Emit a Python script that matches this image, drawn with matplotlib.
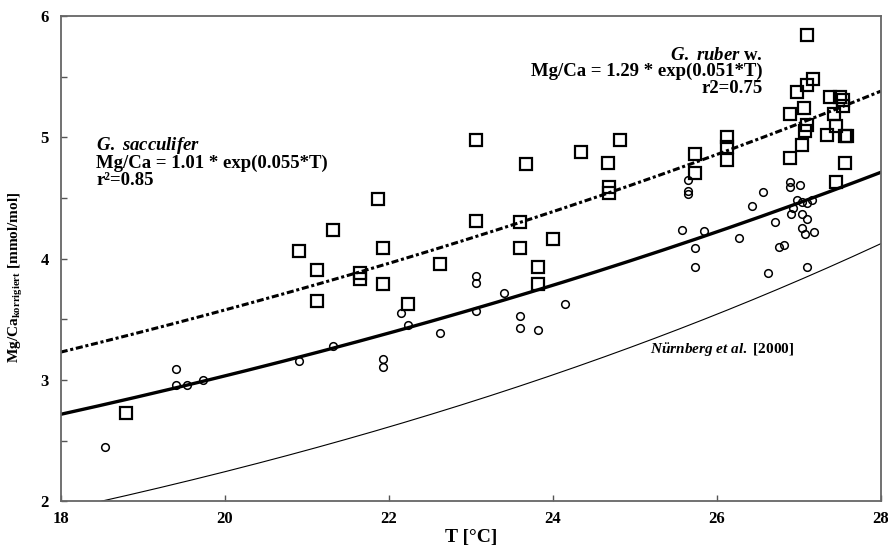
import numpy as np
import matplotlib
matplotlib.use("Agg")
import matplotlib.pyplot as plt
from matplotlib.ticker import MultipleLocator

plt.rcParams['font.family'] = ['Liberation Serif', 'DejaVu Serif']
plt.rcParams['font.weight'] = 'bold'
plt.rcParams['mathtext.fontset'] = 'custom'
plt.rcParams['mathtext.rm'] = 'Liberation Serif:bold'
plt.rcParams['mathtext.it'] = 'Liberation Serif:italic:bold'

# G. sacculifer (circles)
sacc_T = [18.54, 19.40, 19.40, 19.54, 19.74, 20.91, 21.32, 21.93, 21.93, 22.15,
          22.24, 22.63, 23.07, 23.07, 23.07, 23.41, 23.60, 23.60, 23.82, 24.15,
          25.65, 25.65, 25.65, 25.58, 25.85, 25.74, 25.74, 26.27, 26.43, 26.57,
          26.62, 26.71, 26.76, 26.82, 26.89, 26.89, 27.02, 26.98, 26.90, 26.93,
          27.04, 27.10, 27.16, 27.04, 27.10, 27.04, 27.08, 27.19, 27.10]
sacc_mgca = [2.45, 3.09, 2.96, 2.96, 3.00, 3.16, 3.28, 3.17, 3.11, 3.55,
             3.45, 3.39, 3.86, 3.80, 3.57, 3.72, 3.53, 3.43, 3.41, 3.63,
             4.65, 4.56, 4.53, 4.24, 4.23, 4.09, 3.93, 4.17, 4.43, 4.55,
             3.88, 4.30, 4.10, 4.11, 4.63, 4.59, 4.61, 4.48, 4.37, 4.42,
             4.47, 4.46, 4.48, 4.37, 4.33, 4.25, 4.20, 4.22, 3.93]

# G. ruber w. (squares)
ruber_T = [18.79, 20.91, 21.32, 21.12, 21.12, 21.65, 21.65, 21.87, 21.93, 21.93,
           22.24, 22.63, 23.07, 23.07, 23.60, 23.60, 23.68, 23.82, 23.82, 24.00,
           24.35, 24.82, 24.67, 24.69, 24.69, 25.74, 25.74, 26.13, 26.13, 26.13,
           27.10, 27.18, 27.10, 26.98, 27.07, 26.89, 27.10, 27.08, 27.04, 26.89,
           27.38, 27.50, 27.54, 27.54, 27.43, 27.46, 27.34, 27.57, 27.59, 27.57,
           27.45]
ruber_mgca = [2.73, 4.06, 4.24, 3.91, 3.65, 3.88, 3.83, 4.49, 4.09, 3.79,
              3.63, 3.96, 4.98, 4.31, 4.30, 4.09, 4.78, 3.93, 3.79, 4.16,
              4.88, 4.98, 4.79, 4.59, 4.54, 4.86, 4.71, 5.00, 4.92, 4.81,
              5.84, 5.48, 5.43, 5.37, 5.24, 5.19, 5.10, 5.05, 4.94, 4.83,
              5.33, 5.33, 5.31, 5.26, 5.19, 5.09, 5.02, 5.01, 5.01, 4.79,
              4.63]

# exponential calibrations Mg/Ca = a * exp(b*T)
sacc_fit = (1.01, 0.055)
ruber_fit = (1.29, 0.051)
nuernberg_fit = (0.491, 0.076)

T = np.linspace(18, 28, 200)

fig = plt.figure(figsize=(8.88, 5.52), dpi=100)
ax = fig.add_axes([0.0684, 0.0915, 0.9234, 0.8797])

ax.plot(T, nuernberg_fit[0] * np.exp(nuernberg_fit[1] * T), color='black', lw=0.8)
ax.plot(T, sacc_fit[0] * np.exp(sacc_fit[1] * T), color='black', lw=2.4)
ax.plot(T, ruber_fit[0] * np.exp(ruber_fit[1] * T), color='black', lw=2.2,
        dashes=(2.3, 0.9, 1.0, 0.9))

ax.plot(sacc_T, sacc_mgca, 'o', ms=5.5, mfc='none', mec='black', mew=1.1)
ax.plot(ruber_T, ruber_mgca, 's', ms=9, mfc='none', mec='black', mew=1.6)

ax.set_xlim(18, 28)
ax.set_ylim(2, 6)
ax.xaxis.set_major_locator(MultipleLocator(2))
ax.yaxis.set_major_locator(MultipleLocator(1))
ax.yaxis.set_minor_locator(MultipleLocator(0.5))
ax.tick_params(which='both', direction='in', length=4.5, width=1.0,
               color='#555555', top=False, right=False)
ax.tick_params(axis='x', labelsize=12, pad=7)
ax.tick_params(axis='y', labelsize=12, pad=8.5)
for s in ax.spines.values():
    s.set_color('#666666')
    s.set_linewidth(1.3)

ax.set_xlabel('T [°C]', fontsize=14, fontweight='bold', labelpad=1)
ax.set_ylabel(r'Mg/Ca$_{\mathrm{korrigiert}}$ [mmol/mol]', fontsize=11,
              fontweight='bold')
ax.yaxis.set_label_coords(-0.044, 0.462)

# fit equations, one line each
ann = dict(transform=ax.transAxes, fontsize=13.5, fontweight='bold', va='baseline')
ax.text(0.043, 0.7238, r'$\mathit{G.\ sacculifer}$', ha='left', **ann)
ax.text(0.043, 0.6868, 'Mg/Ca = 1.01 * exp(0.055*T)', ha='left', **ann)
ax.text(0.043, 0.6518, 'r²=0.85', ha='left', **ann)

ax.text(0.8565, 0.9092, r'$\mathit{G.\ ruber}$ w.', ha='right', **ann)
ax.text(0.8565, 0.8763, 'Mg/Ca = 1.29 * exp(0.051*T)', ha='right', **ann)
ax.text(0.8565, 0.8412, 'r2=0.75', ha='right', **ann)

ax.text(25.19, 3.215, r'$\mathit{N\"urnberg\ et\ al.}$ [2000]', fontsize=11,
        fontweight='bold', ha='left', va='baseline')

fig.savefig('out.png', dpi=100)
